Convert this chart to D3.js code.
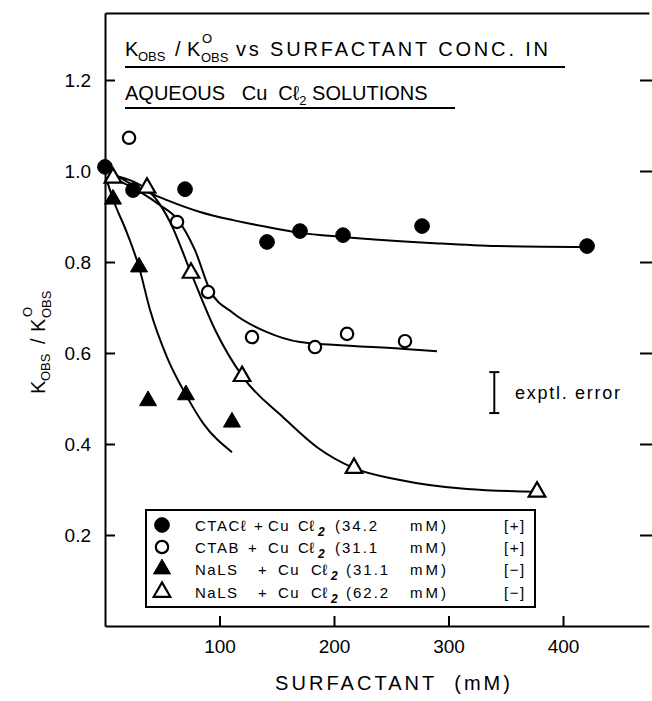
<!DOCTYPE html>
<html>
<head>
<meta charset="utf-8">
<script src="https://cdn.jsdelivr.net/npm/d3@7"></script>
<style>
  body { margin: 0; background: #fff; }
  svg { display: block; font-family: "Liberation Sans", Arial, sans-serif; }
  .axis path, .axis line { stroke: #000; stroke-width: 2; }
  .axis text { font-size: 19px; fill: #000; font-family: "Liberation Sans", Arial, sans-serif; }
</style>
</head>
<body>
<div id="chart"></div>
<script>
// chart values (x = surfactant mM, y = kobs / kobs0)
const xTicks = [100, 200, 300, 400];
const yTicks = [0.2, 0.4, 0.6, 0.8, 1.0, 1.2];

const ctaclX = [0, 24.5, 69.9, 141.5, 170.3, 207.9, 276.9, 421.0];
const ctaclY = [1.009, 0.958, 0.960, 0.844, 0.868, 0.859, 0.879, 0.835];
const ctabX = [21.0, 62.9, 90.0, 128.4, 183.4, 211.4, 262.0];
const ctabY = [1.073, 0.888, 0.734, 0.635, 0.613, 0.642, 0.626];
const nals31X = [7.0, 29.7, 37.6, 70.7, 110.9];
const nals31Y = [0.938, 0.789, 0.495, 0.508, 0.448];
const nals62X = [7.0, 36.7, 75.1, 119.7, 217.5, 377.3];
const nals62Y = [0.985, 0.963, 0.776, 0.549, 0.347, 0.295];

// hand-drawn fit curves
const ctaclFitX = [0, 24.5, 54.1, 83.0, 111.8, 141.5, 170.3, 207.9, 283.8, 342.4, 421.0];
const ctaclFitY = [1.007, 0.969, 0.936, 0.910, 0.892, 0.877, 0.864, 0.855, 0.842, 0.835, 0.833];
const ctabFitX = [3, 30.6, 48, 62.9, 78.6, 91.7, 111.8, 141.5, 170.3, 199.1, 262, 290];
const ctabFitY = [0.99, 0.954, 0.925, 0.895, 0.826, 0.738, 0.688, 0.646, 0.624, 0.618, 0.609, 0.604];
const nals31FitX = [0.9, 7.0, 19.2, 29.7, 39.3, 54.1, 70.7, 85.6, 110.9];
const nals31FitY = [0.985, 0.938, 0.864, 0.789, 0.695, 0.591, 0.508, 0.446, 0.382];
const nals62FitX = [4.4, 36.7, 56.8, 75.1, 96.1, 120.5, 155.5, 185.2, 217.5, 257.6, 316.2, 377.3];
const nals62FitY = [0.991, 0.959, 0.888, 0.776, 0.651, 0.547, 0.459, 0.393, 0.347, 0.321, 0.301, 0.295];

const errorBar = { x: 340, lo: 0.468, hi: 0.558 };

const legendNames = ['CTAC\u2113', 'CTAB', 'NaLS', 'NaLS'];
const legendConc = ['(34.2', '(31.1', '(31.1', '(62.2'];
const legendCharge = ['[+]', '[+]', '[\u2212]', '[\u2212]'];

const width = 652;
const height = 701;

const svg = d3.select('#chart')
  .append('svg')
  .attr('width', width)
  .attr('height', height);

svg.append('rect').attr('width', width).attr('height', height).attr('fill', '#fff');

const x = d3.scaleLinear().domain([0, 475]).range([105, 105 + 475 * 1.145]);
const y = d3.scaleLinear().domain([0, 1.347]).range([626, 626 - 1.347 * 455]);

// axes: ticks point inward, like the original
svg.append('g')
  .attr('class', 'axis')
  .attr('transform', `translate(0, ${y(0)})`)
  .call(d3.axisBottom(x).tickValues(xTicks).tickSizeInner(-10).tickSizeOuter(0).tickPadding(14));

svg.append('g')
  .attr('class', 'axis')
  .attr('transform', `translate(${x(0)}, 0)`)
  .call(d3.axisLeft(y).tickValues(yTicks).tickFormat(d3.format('.1f')).tickSizeInner(-10).tickSizeOuter(0).tickPadding(14));

svg.append('g')
  .attr('class', 'axis')
  .attr('transform', `translate(0, ${y(1.347)})`)
  .call(d3.axisTop(x).tickValues([]).tickSizeOuter(0));

const rightAxis = svg.append('g')
  .attr('class', 'axis')
  .attr('transform', 'translate(640, 0)')
  .call(d3.axisRight(y).tickValues(yTicks).tickFormat('').tickSize(12));
rightAxis.select('.domain').remove();

/**
 * Draws the "Kobs / K°obs" group in local coordinates.
 */
function drawKRatio(g) {
  const big = 20;
  const small = 13;
  g.append('text').attr('x', 0).attr('y', 0).attr('font-size', big).text('K');
  g.append('text').attr('x', 13).attr('y', 5).attr('font-size', small).text('OBS');
  g.append('text').attr('x', 50).attr('y', 0).attr('font-size', big).text('/');
  g.append('text').attr('x', 62).attr('y', 0).attr('font-size', big).text('K');
  g.append('text').attr('x', 77).attr('y', -13).attr('font-size', small).text('O');
  g.append('text').attr('x', 76).attr('y', 6).attr('font-size', small).text('OBS');
}

// title block
drawKRatio(svg.append('g').attr('transform', 'translate(125, 56)'));
svg.append('text')
  .attr('x', 236).attr('y', 56)
  .attr('font-size', 20)
  .attr('textLength', 312)
  .attr('lengthAdjust', 'spacing')
  .text('vs SURFACTANT CONC. IN');

const line2 = svg.append('text')
  .attr('x', 125).attr('y', 100)
  .attr('font-size', 20)
  .attr('xml:space', 'preserve');
line2.append('tspan').text('AQUEOUS   Cu  C\u2113');
line2.append('tspan').attr('font-size', 13).attr('dy', 5).text('2');
line2.append('tspan').attr('dy', -5).text(' SOLUTIONS');

svg.append('line').attr('x1', 125).attr('x2', 565).attr('y1', 67).attr('y2', 67)
  .attr('stroke', '#000').attr('stroke-width', 2);
svg.append('line').attr('x1', 125).attr('x2', 455).attr('y1', 108).attr('y2', 108)
  .attr('stroke', '#000').attr('stroke-width', 2);

// axis titles
drawKRatio(svg.append('g').attr('transform', 'translate(45, 394) rotate(-90)'));

svg.append('text')
  .attr('x', 275).attr('y', 690)
  .attr('font-size', 20)
  .attr('textLength', 235)
  .attr('lengthAdjust', 'spacing')
  .attr('xml:space', 'preserve')
  .text('SURFACTANT  (mM)');

// fit curves
const curve = d3.line()
  .x(d => x(d[0]))
  .y(d => y(d[1]))
  .curve(d3.curveMonotoneX);

[[ctaclFitX, ctaclFitY], [ctabFitX, ctabFitY], [nals31FitX, nals31FitY], [nals62FitX, nals62FitY]]
  .forEach(([xs, ys]) => {
    svg.append('path')
      .datum(d3.zip(xs, ys))
      .attr('d', curve)
      .attr('fill', 'none')
      .attr('stroke', '#000')
      .attr('stroke-width', 2);
  });

// markers
const series = [
  { xs: ctaclX, ys: ctaclY, type: d3.symbolCircle, size: 170, filled: true },
  { xs: ctabX, ys: ctabY, type: d3.symbolCircle, size: 120, filled: false },
  { xs: nals31X, ys: nals31Y, type: d3.symbolTriangle, size: 125, filled: true },
  { xs: nals62X, ys: nals62Y, type: d3.symbolTriangle, size: 120, filled: false },
];

function styleMarker(sel, s) {
  sel.attr('d', d3.symbol().type(s.type).size(s.size)())
    .attr('fill', s.filled ? '#000' : '#fff')
    .attr('stroke', '#000')
    .attr('stroke-width', s.filled ? 1 : 2.2);
}

series.forEach((s) => {
  svg.append('g')
    .selectAll('path')
    .data(d3.zip(s.xs, s.ys))
    .enter()
    .append('path')
    .attr('transform', d => `translate(${x(d[0])},${y(d[1])})`)
    .call(styleMarker, s);
});

// experimental error bar
const eb = svg.append('g').attr('stroke', '#000').attr('stroke-width', 2);
eb.append('line').attr('x1', x(errorBar.x)).attr('x2', x(errorBar.x))
  .attr('y1', y(errorBar.lo)).attr('y2', y(errorBar.hi));
eb.append('line').attr('x1', x(errorBar.x) - 5).attr('x2', x(errorBar.x) + 5)
  .attr('y1', y(errorBar.lo)).attr('y2', y(errorBar.lo));
eb.append('line').attr('x1', x(errorBar.x) - 5).attr('x2', x(errorBar.x) + 5)
  .attr('y1', y(errorBar.hi)).attr('y2', y(errorBar.hi));
svg.append('text')
  .attr('x', 515).attr('y', y((errorBar.lo + errorBar.hi) / 2) + 6)
  .attr('font-size', 18)
  .attr('textLength', 105)
  .attr('lengthAdjust', 'spacing')
  .text('exptl. error');

// legend
const legend = svg.append('g');
legend.append('rect')
  .attr('x', 146).attr('y', 510).attr('width', 389).attr('height', 97)
  .attr('fill', '#fff').attr('stroke', '#000').attr('stroke-width', 2);

const rowY = [525, 547, 569, 592];
const plusX = [254, 248, 258, 258];
const isNa = [false, false, true, true];
legendNames.forEach((name, i) => {
  const cy = rowY[i];
  const na = isNa[i];
  legend.append('path')
    .attr('transform', `translate(162, ${cy})`)
    .call(styleMarker, series[i]);
  const t = (xx, str, spacing) => legend.append('text')
    .attr('x', xx).attr('y', cy + 6)
    .attr('font-size', 15)
    .attr('letter-spacing', spacing === undefined ? 1.5 : spacing)
    .text(str);
  t(195, name);
  t(plusX[i], '+');
  t(na ? 278 : 268, 'Cu');
  t(na ? 311 : 298, 'C\u2113', 0.5);
  legend.append('text')
    .attr('x', na ? 331 : 318).attr('y', cy + 11)
    .attr('font-size', 12).attr('font-weight', 'bold').attr('font-style', 'italic')
    .text('2');
  t(na ? 346 : 335, legendConc[i], 2);
  t(410, 'mM)', 3);
  t(504, legendCharge[i]);
});
</script>
</body>
</html>
